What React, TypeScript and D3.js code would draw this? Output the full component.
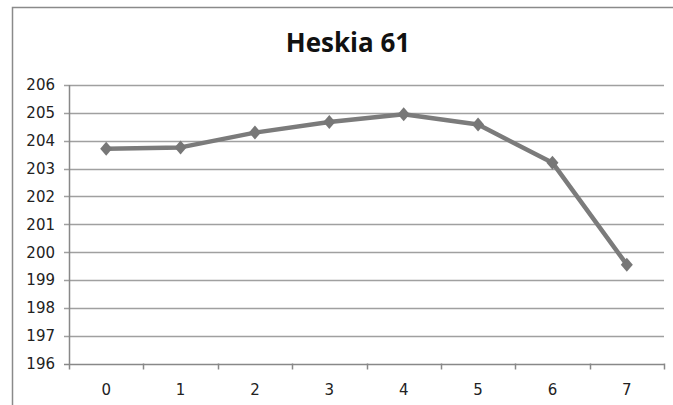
import React, {useRef, useEffect} from 'react';
import * as d3 from 'd3';

const categories: string[] = ['0', '1', '2', '3', '4', '5', '6', '7'];
const values: number[] = [203.71, 203.76, 204.29, 204.67, 204.95, 204.58, 203.21, 199.55];
const yTicks: number[] = [196, 197, 198, 199, 200, 201, 202, 203, 204, 205, 206];
const title = 'Heskia 61';

const W = 673;
const H = 405;
const margin = {left: 69, right: 9, top: 85, bottom: 41.5};

const App: React.FC = () => {
    const svgRef = useRef<SVGSVGElement>(null);

    useEffect(() => {
        document.body.style.margin = '0';
        if (!svgRef.current) return;
        const svg = d3.select(svgRef.current);
        svg.selectAll('*').remove();

        const x0 = margin.left;
        const x1 = W - margin.right;
        const y0 = H - margin.bottom;
        const y1 = margin.top;

        const x = d3.scaleBand().domain(categories).range([x0, x1]);
        const y = d3.scaleLinear().domain([196, 206]).range([y0, y1]);

        // outer frame
        svg.append('path')
            .attr('d', `M12.5,${H} V7.5 H${W}`)
            .attr('fill', 'none')
            .attr('stroke', '#8a8a8a')
            .attr('stroke-width', 1.5);

        // title
        svg.append('text')
            .attr('x', 348)
            .attr('y', 52)
            .attr('text-anchor', 'middle')
            .style('font-family', '"Open Sans", sans-serif')
            .style('font-weight', 'bold')
            .style('font-size', '26px')
            .style('fill', '#111')
            .text(title);

        // gridlines
        svg.append('g')
            .selectAll('line')
            .data(yTicks)
            .enter()
            .append('line')
            .attr('x1', x0 - 5)
            .attr('x2', x1)
            .attr('y1', d => Math.round(y(d)) + 0.5)
            .attr('y2', d => Math.round(y(d)) + 0.5)
            .attr('stroke', d => d === 196 ? '#888' : '#a0a0a0')
            .attr('stroke-width', 1.5);

        // y axis line
        svg.append('line')
            .attr('x1', x0 + 0.5).attr('x2', x0 + 0.5)
            .attr('y1', y1).attr('y2', y0 + 6)
            .attr('stroke', '#888')
            .attr('stroke-width', 1.5);

        // x tick marks at category boundaries
        const bounds = categories.map(c => x(c) as number).concat([x1]);
        svg.append('g')
            .selectAll('line')
            .data(bounds.slice(1))
            .enter()
            .append('line')
            .attr('x1', d => Math.round(d) + 0.5)
            .attr('x2', d => Math.round(d) + 0.5)
            .attr('y1', y0)
            .attr('y2', y0 + 6)
            .attr('stroke', '#888')
            .attr('stroke-width', 1.5);

        // y labels
        svg.append('g')
            .selectAll('text')
            .data(yTicks)
            .enter()
            .append('text')
            .attr('x', 55)
            .attr('y', d => y(d))
            .attr('dy', '0.36em')
            .attr('text-anchor', 'end')
            .style('font-family', '"DejaVu Sans", sans-serif')
            .style('font-size', '15px')
            .style('fill', '#222')
            .text(d => d);

        // x labels
        svg.append('g')
            .selectAll('text')
            .data(categories)
            .enter()
            .append('text')
            .attr('x', d => (x(d) as number) + x.bandwidth() / 2)
            .attr('y', 395)
            .attr('text-anchor', 'middle')
            .style('font-family', '"DejaVu Sans", sans-serif')
            .style('font-size', '15px')
            .style('fill', '#222')
            .text(d => d);

        const pts = values.map((v, i) => [(x(categories[i]) as number) + x.bandwidth() / 2, y(v)] as [number, number]);

        svg.append('path')
            .attr('d', d3.line()(pts))
            .attr('fill', 'none')
            .attr('stroke', '#7b7b7b')
            .attr('stroke-width', 4.5)
            .attr('stroke-linejoin', 'round');

        svg.append('g')
            .selectAll('path')
            .data(pts)
            .enter()
            .append('path')
            .attr('transform', d => `translate(${d[0]},${d[1]})`)
            .attr('d', 'M0,-7 L6,0 L0,7 L-6,0 Z')
            .attr('fill', '#777');
    }, []);

    return <svg ref={svgRef} width={W} height={H} style={{display: 'block', background: '#fff'}}/>;
};

export default App;
